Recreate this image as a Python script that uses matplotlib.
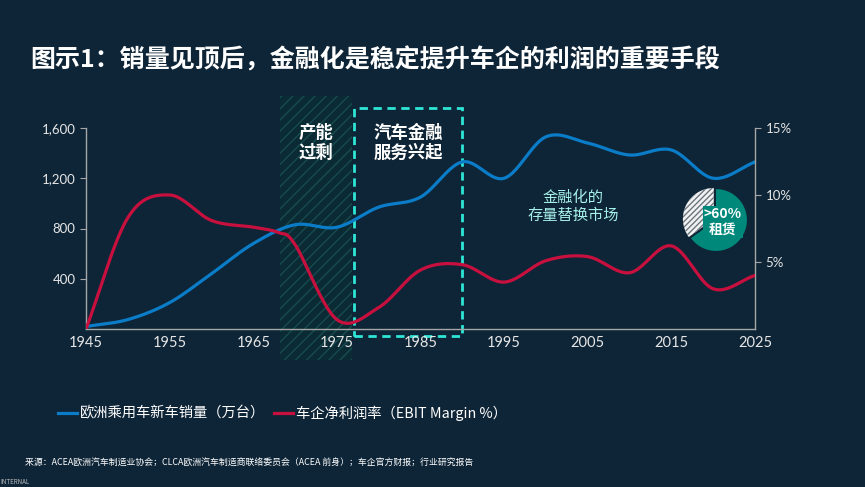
import numpy as np
import matplotlib
matplotlib.use('Agg')
import matplotlib.pyplot as plt
from matplotlib.patches import Rectangle
from matplotlib.lines import Line2D

plt.rcParams['font.family'] = ['Noto Sans CJK SC', 'DejaVu Sans']
plt.rcParams['hatch.linewidth'] = 1.0

BG = '#0E2537'
BLUE = '#0A7CC8'
RED = '#C8103F'
TEAL = '#00897B'
CYAN = '#2EE6D6'
GRID = '#A6A6A6'
TXT = '#E6E6E6'

# data
sales_years = [1945, 1950, 1955, 1960, 1965, 1970, 1975, 1980, 1985, 1990,
               1995, 2000, 2005, 2010, 2015, 2020, 2025]
sales = [20, 75, 210, 440, 680, 830, 810, 970, 1050, 1330,
         1200, 1530, 1480, 1385, 1425, 1200, 1330]

margin_years = [1945, 1950, 1955, 1960, 1965, 1968, 1970, 1975, 1980, 1985,
                1990, 1995, 2000, 2005, 2010, 2015, 2020, 2025]
margin = [0, 8.3, 10.0, 8.1, 7.6, 7.2, 6.3, 0.7, 1.6, 4.4,
          4.8, 3.5, 5.1, 5.4, 4.2, 6.2, 3.0, 4.0]

xticks = list(range(1945, 2026, 10))
yticks_left = [400, 800, 1200, 1600]
yticks_right = [5, 10, 15]

pie_values = [65, 35]  # leasing share vs other
overcap_span = (1968.2, 1976.8)
finance_span = (1977.0, 1990.0)

title = '图示1：销量见顶后，金融化是稳定提升车企的利润的重要手段'
source = '来源：ACEA欧洲汽车制造业协会；CLCA欧洲汽车制造商联络委员会（ACEA 前身）；车企官方财报；行业研究报告'


def smooth(x, y, n=24):
    # catmull-rom style smoothing, like a smoothed line in office charts
    p = np.column_stack([x, y]).astype(float)
    p = np.vstack([2 * p[0] - p[1], p, 2 * p[-1] - p[-2]])
    out = []
    t = np.linspace(0, 1, n, endpoint=False)[:, None]
    for i in range(1, len(p) - 2):
        p0, p1, p2, p3 = p[i - 1], p[i], p[i + 1], p[i + 2]
        seg = 0.5 * ((2 * p1) + (-p0 + p2) * t + (2 * p0 - 5 * p1 + 4 * p2 - p3) * t ** 2
                     + (-p0 + 3 * p1 - 3 * p2 + p3) * t ** 3)
        out.append(seg)
    out.append(p[-2][None, :])
    out = np.vstack(out)
    return out[:, 0], out[:, 1]


fig = plt.figure(figsize=(8.65, 4.87), dpi=100, facecolor=BG)
W, H = 865, 487
ax = fig.add_axes([86 / W, 1 - 329 / H, (755 - 86) / W, (329 - 128) / H])
ax.set_facecolor(BG)
ax2 = ax.twinx()

# shaded overcapacity band
ax.axvspan(*overcap_span, ymin=-0.154, ymax=1.159, facecolor='#0B2B34',
           edgecolor='#184B50', hatch='///', lw=0, clip_on=False, zorder=0)
# dashed box for auto finance rise
ax.add_patch(Rectangle((finance_span[0], -0.035), finance_span[1] - finance_span[0], 1.135,
                       transform=ax.get_xaxis_transform(), fill=False, ec=CYAN, lw=2,
                       ls=(0, (3, 2)), clip_on=False, zorder=1))

sx, sy = smooth(sales_years, sales)
ax.plot(sx, sy, color=BLUE, lw=2.3, zorder=3, solid_capstyle='round')
mx, my = smooth(margin_years, margin)
ax2.plot(mx, my, color=RED, lw=2.3, zorder=3, solid_capstyle='round')

ax.set_xlim(1945, 2025)
ax.set_ylim(0, 1600)
ax2.set_ylim(0, 15)
ax.set_xticks(xticks)
ax.set_yticks(yticks_left)
ax.set_yticklabels([f'{v:,}' for v in yticks_left])
ax2.set_yticks(yticks_right)
ax2.set_yticklabels([f'{v}%' for v in yticks_right])

for a in (ax, ax2):
    for s in a.spines.values():
        s.set_visible(False)
ax.spines['left'].set_visible(True)
ax.spines['bottom'].set_visible(True)
ax2.spines['right'].set_visible(True)
for s in (ax.spines['left'], ax.spines['bottom'], ax2.spines['right']):
    s.set_color(GRID)
    s.set_linewidth(1)

ax.tick_params(axis='y', colors=GRID, labelcolor=TXT, length=4.5, labelsize=9.5, pad=3)
ax.tick_params(axis='x', length=0, labelcolor=TXT, labelsize=10.5, pad=5)
ax2.tick_params(axis='y', colors=GRID, labelcolor=TXT, length=4.5, labelsize=9.5, pad=3)
for lab in ax.get_xticklabels() + ax.get_yticklabels() + ax2.get_yticklabels():
    lab.set_fontfamily(['Lato', 'DejaVu Sans'])

# annotations
ax.text(sum(overcap_span) / 2, 0.925, '产能\n过剩', transform=ax.get_xaxis_transform(),
        ha='center', va='center', color='white', fontsize=12.5, fontweight='bold',
        linespacing=1.1, zorder=5)
ax.text(sum(finance_span) / 2, 0.925, '汽车金融\n服务兴起', transform=ax.get_xaxis_transform(),
        ha='center', va='center', color='white', fontsize=12.5, fontweight='bold',
        linespacing=1.1, zorder=5)
ax.text(2003.3, 0.61, '金融化的\n存量替换市场', transform=ax.get_xaxis_transform(),
        ha='center', va='center', color='#A6F0EA', fontsize=11, style='italic',
        linespacing=1.15, zorder=5)

# leasing pie
pax = fig.add_axes([(716 - 34) / W, 1 - (220 + 34) / H, 68 / W, 68 / H])
wedges, _ = pax.pie(pie_values, startangle=90, counterclock=False,
                    colors=[TEAL, '#F2F2F2'], explode=[0, 0.08],
                    wedgeprops=dict(lw=0))
wedges[1].set_hatch('//////')
wedges[1].set_edgecolor('#6B7580')
pax.set_aspect('equal')
pax.set_xlim(-1.1, 1.1)
pax.set_ylim(-1.1, 1.1)
pax.axis('off')
fig.text(723 / W, 1 - 222 / H, '>60%\n租赁', ha='center', va='center', color='white',
         fontsize=10, fontweight='bold', linespacing=1.2,
         bbox=dict(boxstyle='square,pad=0.05', fc=TEAL, ec='none'))

# title, legend, source
fig.text(30 / W, 1 - 60 / H, title, ha='left', va='center', color='white',
         fontsize=18, fontweight='bold')

handles = [Line2D([], [], color=BLUE, lw=2.3), Line2D([], [], color=RED, lw=2.3)]
labels = ['欧洲乘用车新车销量（万台）', '车企净利润率（EBIT Margin %）']
fig.legend(handles, labels, loc='center left', bbox_to_anchor=(58 / W, 1 - 413 / H),
           ncol=2, frameon=False, fontsize=10.3, labelcolor='white', handlelength=1.3,
           handletextpad=0.25, columnspacing=0.6, borderpad=0, borderaxespad=0)

fig.text(25 / W, 1 - 462 / H, source, ha='left', va='center', color='white', fontsize=6.4)
fig.text(0, 1 - 482 / H, 'INTERNAL', ha='left', va='center', color='#BBBBBB', fontsize=4.5)

fig.savefig('out.png', dpi=100, facecolor=BG)
